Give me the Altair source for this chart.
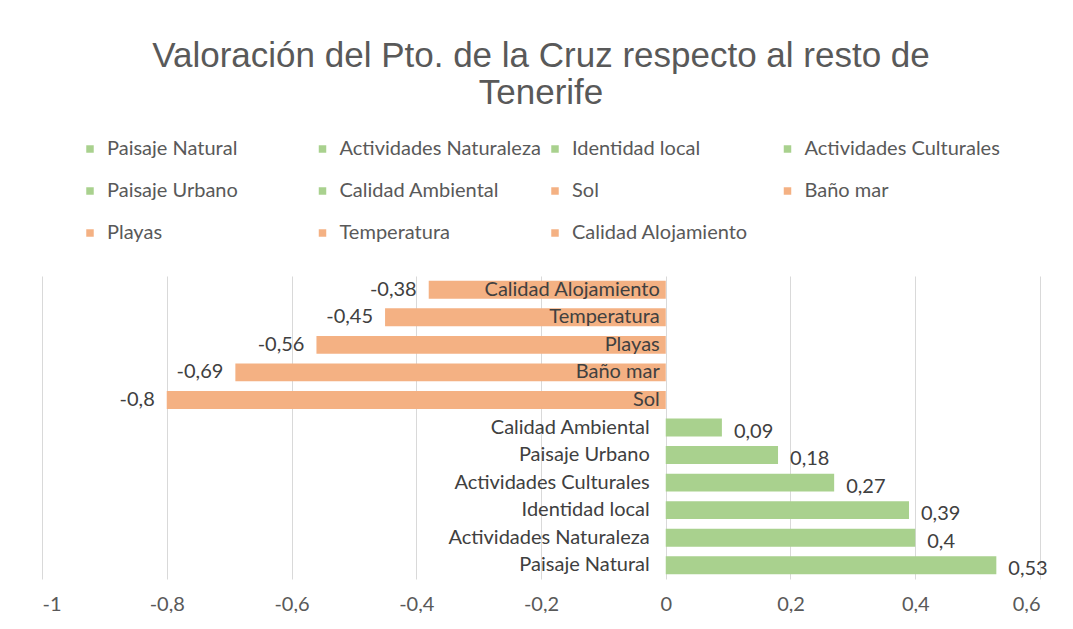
import altair as alt
import pandas as pd

categories = ["Paisaje Natural", "Actividades Naturaleza", "Identidad local",
              "Actividades Culturales", "Paisaje Urbano", "Calidad Ambiental",
              "Sol", "Baño mar", "Playas", "Temperatura", "Calidad Alojamiento"]
values = [0.53, 0.4, 0.39, 0.27, 0.18, 0.09, -0.8, -0.69, -0.56, -0.45, -0.38]
tick_values = [-1, -0.8, -0.6, -0.4, -0.2, 0, 0.2, 0.4, 0.6]
title_lines = ["Valoración del Pto. de la Cruz respecto al resto de", "Tenerife"]

GREEN = "#A9D18E"
ORANGE = "#F4B183"
bar_colors = [GREEN if v >= 0 else ORANGE for v in values]

df = pd.DataFrame({"cat": categories, "value": values})
df["label"] = df["value"].map(lambda v: f"{v:g}".replace(".", ","))

FONT = "Lato"
FS = 20
y_order = list(reversed(categories))

y_enc = alt.Y("cat:N", sort=y_order, axis=None,
              scale=alt.Scale(paddingInner=0.35, paddingOuter=0.175))
x_scale = alt.Scale(domain=[-1, 0.6], nice=False, zero=False)

base = alt.Chart(df)

bars = base.mark_bar().encode(
    x=alt.X("value:Q", scale=x_scale,
            axis=alt.Axis(values=tick_values, title=None, domain=False, ticks=False,
                          grid=True, gridColor="#D9D9D9", gridWidth=1,
                          labelFont=FONT, labelFontSize=FS, labelColor="#595959",
                          labelPadding=15,
                          labelExpr="(datum.value < 0 ? '-' : '') + replace(format(abs(datum.value), '~g'), '.', ',')")),
    y=y_enc,
    color=alt.Color("cat:N", scale=alt.Scale(domain=categories, range=bar_colors),
                    legend=alt.Legend(orient="none", legendX=38, legendY=-137,
                                      direction="horizontal",
                                      columns=4, gridAlign="all", columnPadding=3.5,
                                      rowPadding=22, symbolType="square", symbolSize=56,
                                      symbolStrokeWidth=0, labelFont=FONT, labelFontSize=FS,
                                      labelColor="#595959", labelOffset=7, labelLimit=300,
                                      title=None, padding=0, symbolLimit=0)),
)

cat_labels_neg = base.transform_filter("datum.value < 0").mark_text(
    align="right", baseline="middle", dx=-6, font=FONT, fontSize=FS, color="#404040"
).encode(x=alt.datum(0, scale=x_scale), y=y_enc, text="cat:N")

cat_labels_pos = base.transform_filter("datum.value >= 0").mark_text(
    align="right", baseline="middle", dx=-16, font=FONT, fontSize=FS, color="#404040"
).encode(x=alt.datum(0, scale=x_scale), y=y_enc, text="cat:N")

neg_labels = base.transform_filter("datum.value < 0").mark_text(
    align="right", baseline="middle", dx=-12, font=FONT, fontSize=FS, color="#404040"
).encode(x="value:Q", y=y_enc, text="label:N")

pos_labels = base.transform_filter("datum.value >= 0").mark_text(
    align="left", baseline="middle", dx=12, dy=4, font=FONT, fontSize=FS, color="#404040"
).encode(x="value:Q", y=y_enc, text="label:N")

chart = alt.layer(bars, cat_labels_neg, cat_labels_pos, neg_labels, pos_labels).properties(
    width=998, height=303,
    title=alt.TitleParams(text=title_lines, font="Liberation Sans", fontSize=35,
                          fontWeight="normal", color="#595959", anchor="middle",
                          offset=28, lineHeight=37),
    autosize=alt.AutoSizeParams(type="none"),
    padding={"left": 34, "top": 268, "right": 20, "bottom": 34},
    background="white",
).configure_view(strokeWidth=0)

chart.save("out.html", embed_options={"renderer": "svg", "actions": False})
